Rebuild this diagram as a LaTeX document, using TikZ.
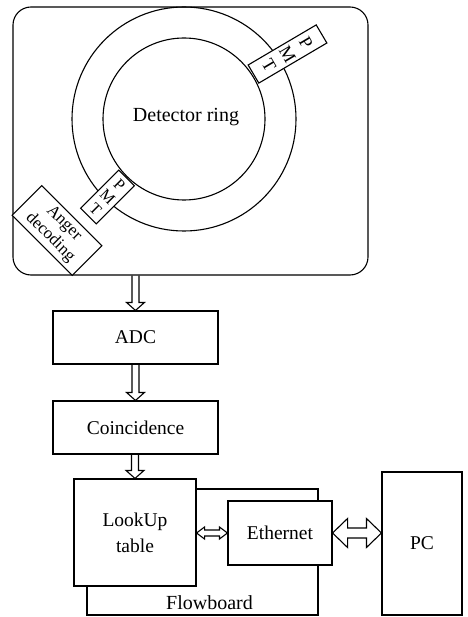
\documentclass[tikz,border=0pt]{standalone}
\usepackage{fontspec}
\setmainfont{Liberation Serif}
\usetikzlibrary{calc}
\newcommand\myvarrow[2]{%
  \draw[harrow] let \p1=(#1.south), \p2=(#2.north) in
    (\x2-3.5pt,\y1) -- (\x2-3.5pt,\y2+8pt) -- (\x2-9pt,\y2+8pt) -- (\x2,\y2)
    -- (\x2+9pt,\y2+8pt) -- (\x2+3.5pt,\y2+8pt) -- (\x2+3.5pt,\y1);}
\begin{document}
\begin{tikzpicture}[x=1pt,y=-1pt,line width=1.1pt,
  box/.style={draw,fill=white,inner sep=0pt,align=center,font=\fontsize{19.5}{26}\selectfont},
  pmtbox/.style={draw,fill=white,inner sep=0pt,align=center},
  lbl/.style={inner sep=0pt,font=\fontsize{20}{23}\selectfont},
  harrow/.style={draw,line width=1.1pt,line join=miter}]
\useasboundingbox (0,0) rectangle (467,617);
% detector frame
\node[draw,rounded corners=18pt,minimum width=355,minimum height=268,inner sep=0pt] (frame) at (190.5,141) {};
\node[draw,circle,minimum size=224,inner sep=0pt] (outer) at (184,119) {};
\node[draw,circle,minimum size=162,inner sep=0pt] (inner) at (184,119) {};
\node[lbl] (dr) at (186,117) {Detector ring};
\node[pmtbox,minimum width=21,minimum height=79,rotate=-59.5,font=\fontsize{18}{21.5}\selectfont] (pmtA) at (287.5,54) {P\\M\\T};
\node[pmtbox,minimum width=22,minimum height=54,rotate=-45,font=\fontsize{16}{17}\selectfont] (pmtB) at (107.5,197) {P\\M\\T};
\node[pmtbox,minimum width=85,minimum height=42,rotate=-45,font=\fontsize{17}{19.5}\selectfont] (anger) at (57,230.5) {Anger\\decoding};
% processing chain
\node[box,minimum width=165,minimum height=53] (adc) at (135.5,337.5) {ADC};
\node[box,minimum width=165,minimum height=53] (coin) at (135.5,427.5) {Coincidence};
\node[box,minimum width=231,minimum height=126] (flow) at (202.5,552) {};
\node[lbl] (flowlbl) at (209.5,603) {Flowboard};
\node[box,minimum width=122,minimum height=107] (lut) at (135,532.5) {LookUp\\table};
\node[box,minimum width=104,minimum height=64] (eth) at (280,533) {Ethernet};
\node[box,minimum width=80,minimum height=143] (pc) at (422,543.5) {PC};
% arrows
\myvarrow{frame}{adc}
\myvarrow{adc}{coin}
\myvarrow{coin}{lut}
\draw[harrow] let \p1=(lut.east), \p2=(eth.west), \p3=(eth.center) in
  (\x1,\y3) -- (\x1+8pt,\y3+6pt) -- (\x1+8pt,\y3+3pt) -- (\x2-8pt,\y3+3pt) -- (\x2-8pt,\y3+6pt)
  -- (\x2,\y3) -- (\x2-8pt,\y3-6pt) -- (\x2-8pt,\y3-3pt) -- (\x1+8pt,\y3-3pt) -- (\x1+8pt,\y3-6pt) -- cycle;
\draw[harrow] let \p1=(eth.east), \p2=(pc.west), \p3=(eth.center) in
  (\x1,\y3) -- (\x1+15pt,\y3+14.5pt) -- (\x1+15pt,\y3+5pt) -- (\x2-15pt,\y3+5pt) -- (\x2-15pt,\y3+14.5pt)
  -- (\x2,\y3) -- (\x2-15pt,\y3-14.5pt) -- (\x2-15pt,\y3-5pt) -- (\x1+15pt,\y3-5pt) -- (\x1+15pt,\y3-14.5pt) -- cycle;
\end{tikzpicture}
\end{document}
